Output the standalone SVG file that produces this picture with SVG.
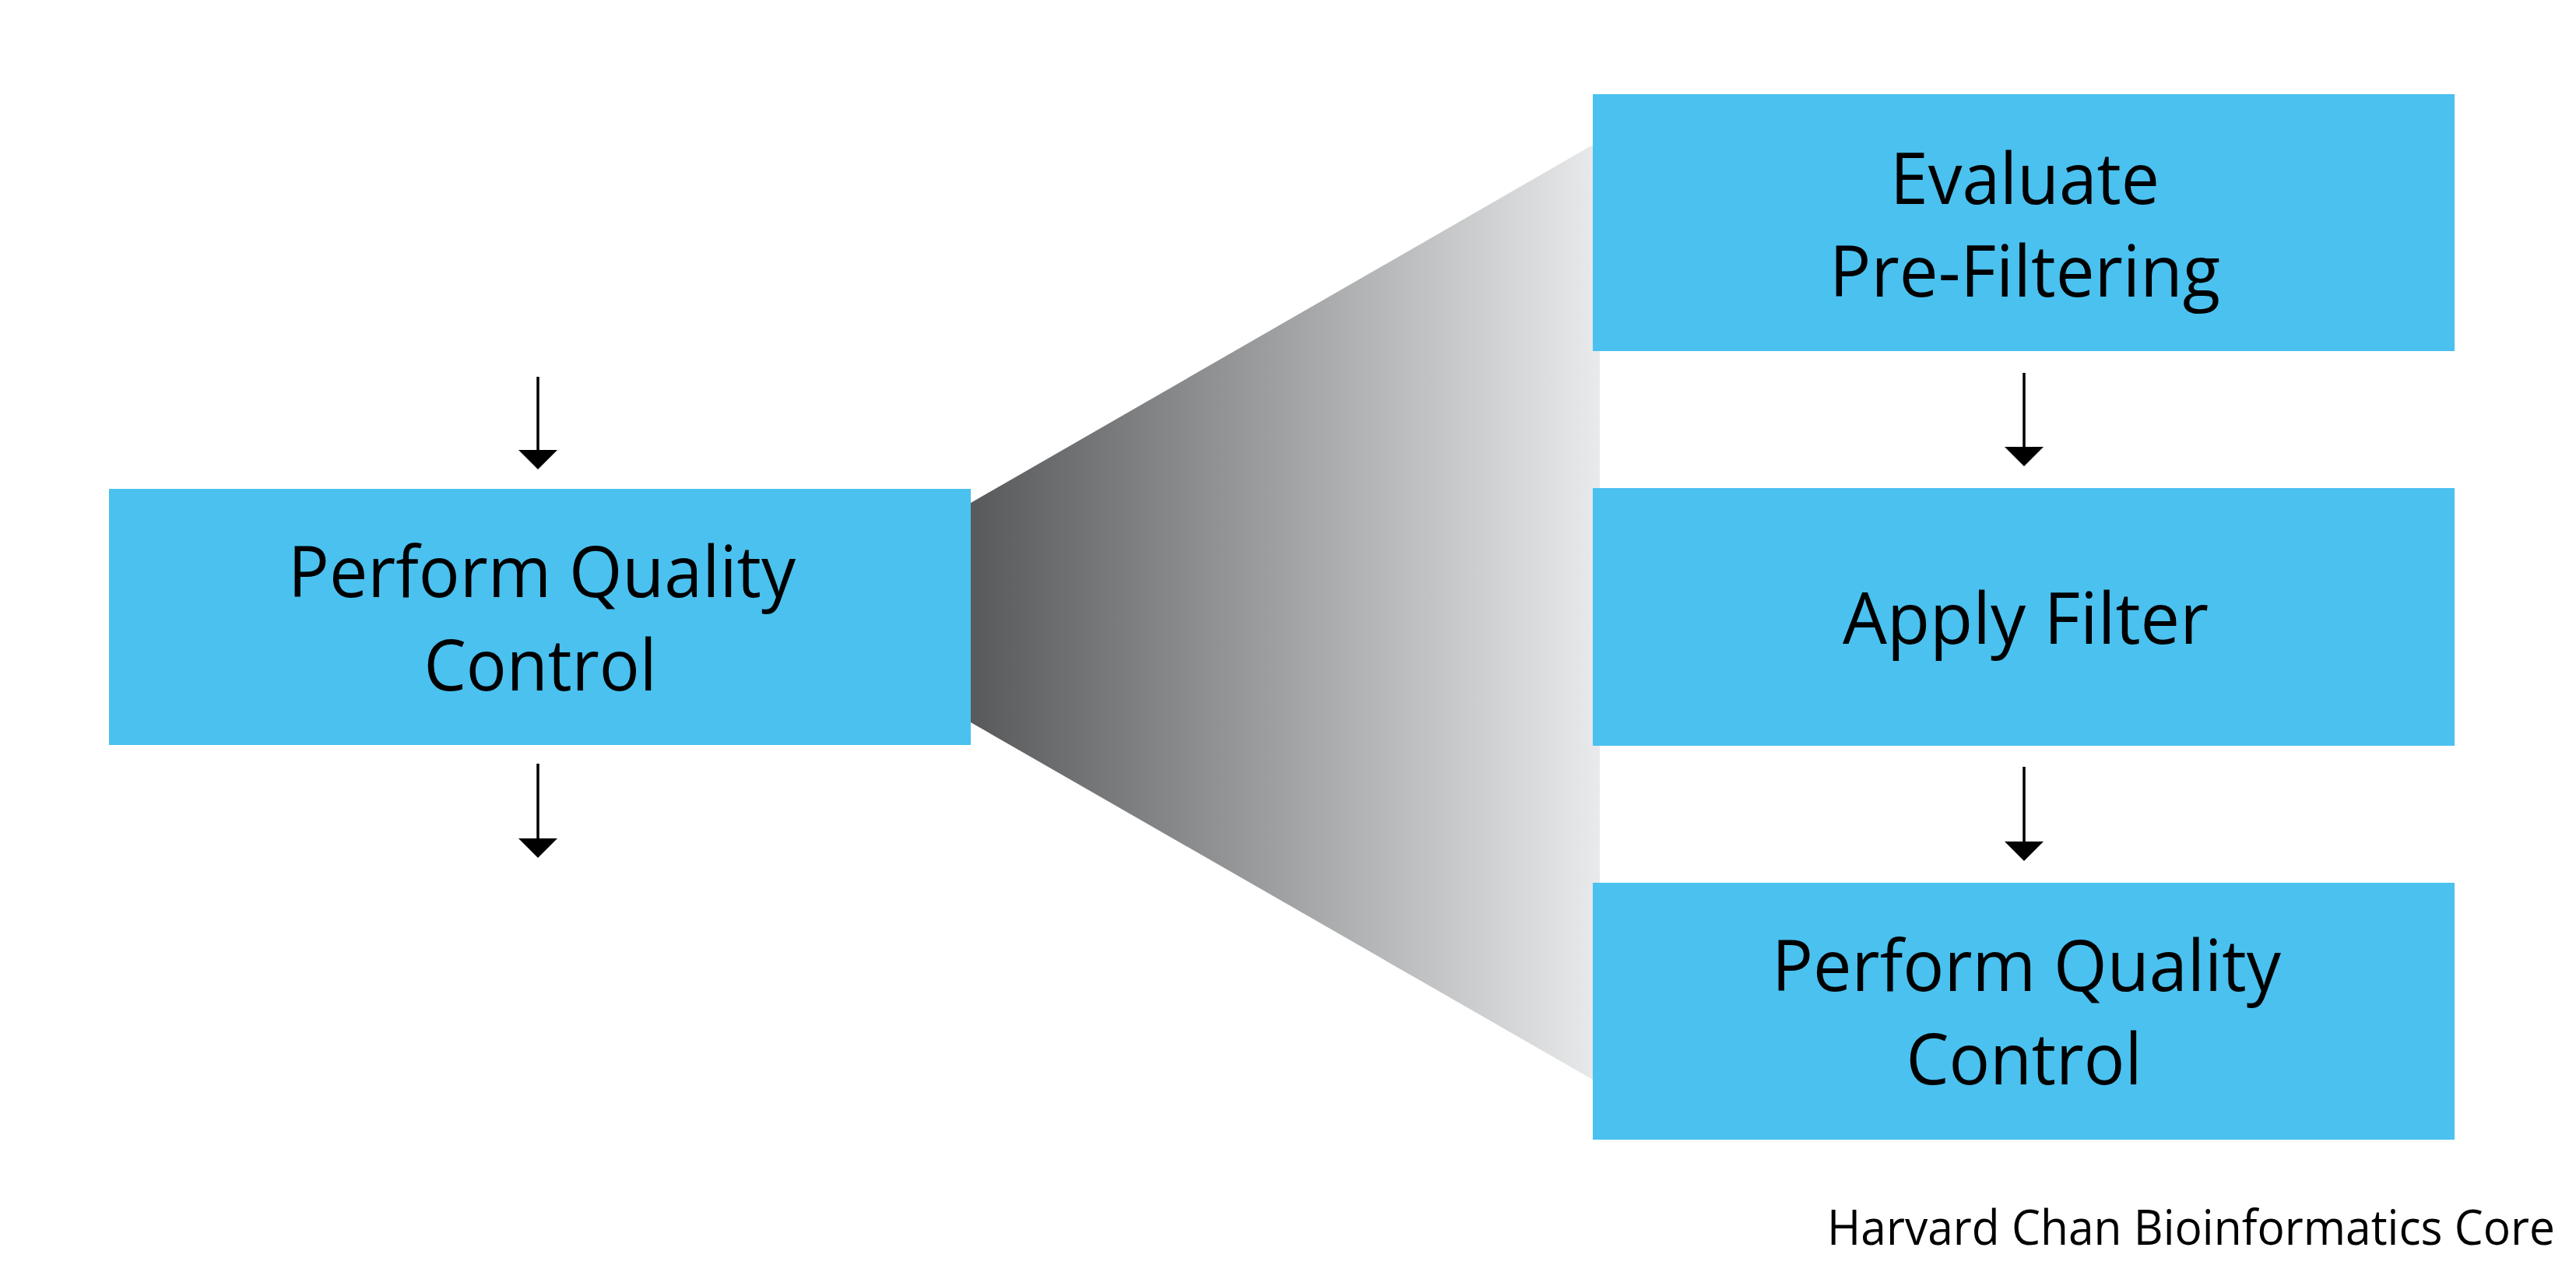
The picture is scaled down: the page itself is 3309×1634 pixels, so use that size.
<svg xmlns="http://www.w3.org/2000/svg" width="3309" height="1634" viewBox="0 0 3309 1634">
<defs>
<linearGradient id="fan" x1="1247" y1="0" x2="2055" y2="0" gradientUnits="userSpaceOnUse">
<stop offset="0" stop-color="#58595b"/>
<stop offset="1" stop-color="#e9eaeb"/>
</linearGradient>
<marker id="ah" viewBox="-1 -26 28 52" refX="0" refY="0" markerWidth="28" markerHeight="52" markerUnits="userSpaceOnUse" orient="auto">
<path d="M0,-25 L25,0 L0,25 Z" fill="#000"/>
</marker>
<style>
.box{fill:#4ac1ef}
.lbl{font-family:"Open Sans","Liberation Sans",sans-serif;font-size:92px;fill:#000;text-anchor:middle}
.foot{font-family:"Open Sans","Liberation Sans",sans-serif;font-size:62px;fill:#000}
.con{stroke:#000;stroke-width:3.5;fill:none;marker-end:url(#ah)}
</style>
</defs>
<rect width="3309" height="1634" fill="#fff"/>
<polygon id="fan-shape" points="1247,646 2055,181 2055,1392 1247,928" fill="url(#fan)"/>
<g id="connectors">
<line class="con" x1="691" y1="484" x2="691" y2="578"/>
<line class="con" x1="691" y1="981" x2="691" y2="1077"/>
<line class="con" x1="2600" y1="479" x2="2600" y2="574"/>
<line class="con" x1="2600" y1="985" x2="2600" y2="1081"/>
</g>
<g id="qc-left">
<rect class="box" x="140" y="628" width="1107" height="329"/>
<text class="lbl" x="696" y="767" textLength="652" lengthAdjust="spacingAndGlyphs">Perform Quality</text>
<text class="lbl" x="694" y="887" textLength="299" lengthAdjust="spacingAndGlyphs">Control</text>
</g>
<g id="evaluate">
<rect class="box" x="2046" y="121" width="1107" height="330"/>
<text class="lbl" x="2601" y="262" textLength="346" lengthAdjust="spacingAndGlyphs">Evaluate</text>
<text class="lbl" x="2601" y="381" textLength="502" lengthAdjust="spacingAndGlyphs">Pre-Filtering</text>
</g>
<g id="apply">
<rect class="box" x="2046" y="627" width="1107" height="331"/>
<text class="lbl" x="2602" y="827" textLength="470" lengthAdjust="spacingAndGlyphs">Apply Filter</text>
</g>
<g id="qc-right">
<rect class="box" x="2046" y="1134" width="1107" height="330"/>
<text class="lbl" x="2603" y="1273" textLength="654" lengthAdjust="spacingAndGlyphs">Perform Quality</text>
<text class="lbl" x="2600" y="1393" textLength="303" lengthAdjust="spacingAndGlyphs">Control</text>
</g>
<g id="footer">
<text class="foot" x="2347" y="1599" textLength="935" lengthAdjust="spacingAndGlyphs">Harvard Chan Bioinformatics Core</text>
</g>
</svg>
